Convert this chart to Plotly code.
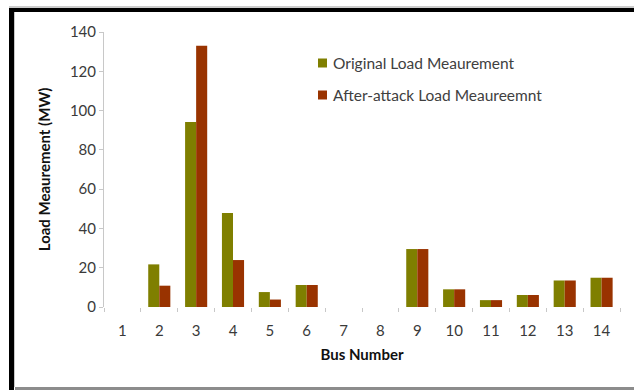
import plotly.graph_objects as go

# IEEE 14-bus load measurements (MW)
buses = [str(i) for i in range(1, 15)]
original_load = [0, 21.7, 94.2, 47.8, 7.6, 11.2, 0, 0, 29.5, 9.0, 3.5, 6.1, 13.5, 14.9]
attacked_load = [0, 10.85, 133.0, 23.9, 3.8, 11.2, 0, 0, 29.5, 9.0, 3.5, 6.1, 13.5, 14.9]
series_names = ["Original Load Meaurement", "After-attack Load Meaureemnt"]
series_colors = ["#7f7f00", "#993300"]

W, H = 634, 390
L, R, T, B = 104, 14, 32, 83
pw, ph = W - L - R, H - T - B


def px_x(x):
    return (x - L) / pw


def px_y(y):
    return (H - B - y) / ph


FONT = "Lato, Noto Sans, sans-serif"

fig = go.Figure()
for name, vals, col in zip(series_names, [original_load, attacked_load], series_colors):
    fig.add_trace(go.Bar(
        x=buses, y=vals, name=name,
        marker=dict(color=col, line=dict(width=0)),
        showlegend=False,
    ))

tick_font = dict(family=FONT, size=15, color="#3a3a3a")
title_font = dict(family=FONT, size=15, color="#111111")

shapes = [
    # outer frame: black left and top edges, grey bottom edge
    dict(type="line", xref="paper", yref="paper",
         x0=px_x(11.5), x1=px_x(11.5), y0=px_y(8), y1=px_y(390),
         line=dict(color="black", width=5)),
    dict(type="line", xref="paper", yref="paper",
         x0=px_x(9), x1=px_x(640), y0=px_y(10), y1=px_y(10),
         line=dict(color="black", width=4)),
    dict(type="line", xref="paper", yref="paper",
         x0=px_x(9), x1=px_x(640), y0=px_y(7), y1=px_y(7),
         line=dict(color="#9a9a9a", width=1)),
    dict(type="line", xref="paper", yref="paper",
         x0=px_x(15), x1=px_x(640), y0=px_y(388.5), y1=px_y(388.5),
         line=dict(color="#8c8c8c", width=3)),
    dict(type="line", xref="paper", yref="paper",
         x0=px_x(14.5), x1=px_x(14.5), y0=px_y(12), y1=px_y(387),
         line=dict(color="#c8c8c8", width=1)),
]

# legend: square swatch followed by the series name
annotations = []
for i, (name, col) in enumerate(zip(series_names, series_colors)):
    cy = 63 + 32 * i
    shapes.append(dict(type="rect", xref="paper", yref="paper",
                       x0=px_x(318), x1=px_x(327), y0=px_y(cy + 4.5), y1=px_y(cy - 4.5),
                       fillcolor=col, line=dict(width=0)))
    annotations.append(dict(xref="paper", yref="paper", x=px_x(331), y=px_y(cy),
                            xanchor="left", yanchor="middle", showarrow=False,
                            text=name, font=dict(family=FONT, size=15.5, color="#404040")))

fig.update_layout(
    width=W, height=H,
    margin=dict(l=L, r=R, t=T, b=B),
    paper_bgcolor="white", plot_bgcolor="white",
    barmode="group", bargap=0.4, bargroupgap=0,
    xaxis=dict(
        type="category", tickson="boundaries", ticks="outside", ticklen=4,
        tickcolor="#c8c8c8", showline=False, showgrid=False,
        tickfont=tick_font, ticklabelstandoff=13,
        title=dict(text="<b>Bus Number</b>", font=title_font, standoff=11),
    ),
    yaxis=dict(
        range=[0, 140], dtick=20, ticks="outside", ticklen=4,
        tickcolor="#c8c8c8", showline=True, linecolor="#c8c8c8", linewidth=1,
        showgrid=False, zeroline=False, tickfont=tick_font,
        title=dict(text="<b>Load Meaurement (MW)</b>",
                   font=dict(family=FONT, size=15, color="#111111"), standoff=15),
    ),
    shapes=shapes,
    annotations=annotations,
)

fig.write_html("out.html")
